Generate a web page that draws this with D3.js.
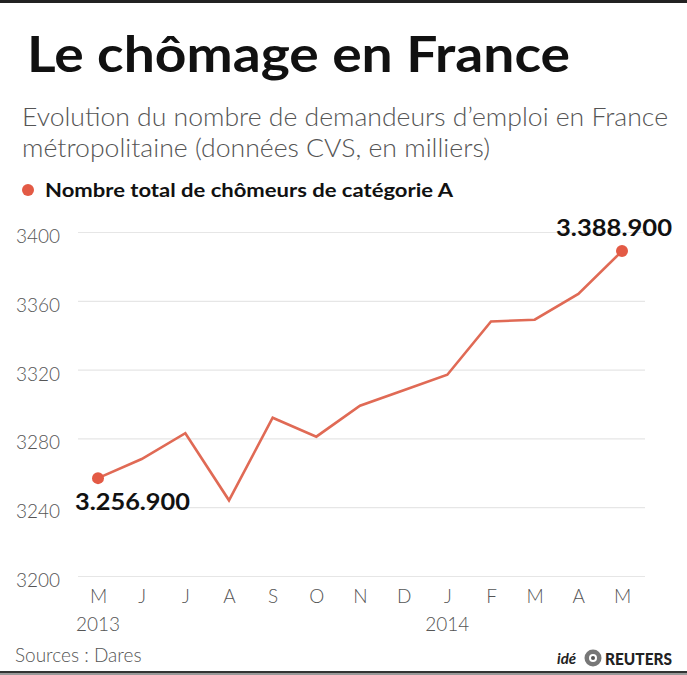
<!DOCTYPE html>
<html><head><meta charset="utf-8">
<script src="https://cdn.jsdelivr.net/npm/d3@7"></script>
<style>
html,body{margin:0;padding:0;background:#fff;}
svg{display:block;}
</style></head>
<body>
<svg id="c" width="687" height="675"></svg>
<script>
const months = ["M","J","J","A","S","O","N","D","J","F","M","A","M"];
const monthIds = ["2013-05","2013-06","2013-07","2013-08","2013-09","2013-10","2013-11","2013-12","2014-01","2014-02","2014-03","2014-04","2014-05"];
const values = [3256.9, 3268, 3283, 3244, 3292, 3281, 3299, 3308, 3317, 3348, 3349, 3364, 3388.9];
const yTicks = [3200, 3240, 3280, 3320, 3360, 3400];
const years = [{id:"2013-05", label:"2013"}, {id:"2014-01", label:"2014"}];
const labels = [{i:0, text:"3.256.900"}, {i:12, text:"3.388.900"}];

const svg = d3.select("#c");
const red = "#e35a45";
const lineRed = "#e06a55";

const x = d3.scalePoint().domain(monthIds).range([98, 622]);
const y = d3.scaleLinear().domain([3200, 3400]).range([576, 232]);

// borders
svg.append("rect").attr("x",0).attr("y",0).attr("width",687).attr("height",3).attr("fill","#222");
svg.append("rect").attr("x",0).attr("y",671).attr("width",687).attr("height",2).attr("fill","#333");
svg.append("rect").attr("x",0).attr("y",673).attr("width",687).attr("height",2).attr("fill","#999");

// title
svg.append("text").attr("x",27).attr("y",72)
  .attr("font-family","Lato, 'Open Sans', sans-serif").attr("font-weight",700)
  .attr("font-size",50).attr("fill","#111")
  .attr("textLength",543).attr("lengthAdjust","spacingAndGlyphs")
  .text("Le chômage en France");

// subtitle
const sub = svg.append("g").attr("font-family","Lato, 'Open Sans', sans-serif").attr("font-weight",300)
  .attr("font-size",25).attr("fill","#555");
sub.append("text").attr("x",22).attr("y",126).attr("textLength",646).attr("lengthAdjust","spacingAndGlyphs")
  .text("Evolution du nombre de demandeurs d’emploi en France");
sub.append("text").attr("x",22).attr("y",157).attr("textLength",468).attr("lengthAdjust","spacingAndGlyphs")
  .text("métropolitaine (données CVS, en milliers)");

// legend
svg.append("circle").attr("cx",28).attr("cy",190).attr("r",6).attr("fill",red);
svg.append("text").attr("x",45).attr("y",197)
  .attr("font-family","Lato, 'Open Sans', sans-serif").attr("font-weight",700)
  .attr("font-size",19).attr("fill","#111")
  .attr("textLength",408).attr("lengthAdjust","spacingAndGlyphs")
  .text("Nombre total de chômeurs de catégorie A");

// y axis with gridlines
const yAxis = d3.axisLeft(y).tickValues(yTicks).tickSize(-(645-78)).tickPadding(18).tickFormat(d3.format("d"));
const ga = svg.append("g").attr("transform","translate(78,0)").call(yAxis);
ga.select(".domain").remove();
ga.selectAll(".tick line").attr("stroke","#e6e6e6").attr("stroke-width",1.2);
ga.selectAll(".tick text").attr("font-family","Lato, 'Open Sans', sans-serif").attr("font-weight",300)
  .attr("font-size",19).attr("fill","#555").attr("dy","0.55em");

// x axis
const xAxis = d3.axisBottom(x).tickSize(0).tickPadding(14).tickFormat((d,i)=>months[i]);
const gx = svg.append("g").attr("transform","translate(0,576)").call(xAxis);
gx.select(".domain").remove();
gx.selectAll(".tick text").attr("font-family","Lato, 'Open Sans', sans-serif").attr("font-weight",300)
  .attr("font-size",19).attr("fill","#555");

svg.append("g").selectAll("text").data(years).join("text")
  .attr("x",d=>x(d.id)).attr("y",631).attr("text-anchor","middle")
  .attr("font-family","Lato, 'Open Sans', sans-serif").attr("font-weight",300)
  .attr("font-size",19).attr("fill","#555").text(d=>d.label);

// line
const line = d3.line().x((d,i)=>x(monthIds[i])).y(d=>y(d));
svg.append("path").datum(values).attr("d",line).attr("fill","none")
  .attr("stroke",lineRed).attr("stroke-width",2.6).attr("stroke-linejoin","miter");

// end dots & labels
svg.append("g").selectAll("circle").data(labels).join("circle")
  .attr("cx",d=>x(monthIds[d.i])).attr("cy",d=>y(values[d.i])).attr("r",6).attr("fill",red);

svg.append("text").attr("x",x(monthIds[0])-23).attr("y",y(values[0])+32)
  .attr("font-family","Lato, 'Open Sans', sans-serif").attr("font-weight",700)
  .attr("font-size",23).attr("fill","#111").attr("textLength",115).attr("lengthAdjust","spacingAndGlyphs")
  .text(labels[0].text);
svg.append("text").attr("x",x(monthIds[12])+50).attr("y",y(values[12])-15).attr("text-anchor","end")
  .attr("font-family","Lato, 'Open Sans', sans-serif").attr("font-weight",700)
  .attr("font-size",23).attr("fill","#111").attr("textLength",116).attr("lengthAdjust","spacingAndGlyphs")
  .text(labels[1].text);

// source
svg.append("text").attr("x",15).attr("y",662)
  .attr("font-family","Lato, 'Open Sans', sans-serif").attr("font-weight",300)
  .attr("font-size",19).attr("fill","#555").text("Sources : Dares");

// logo
svg.append("text").attr("x",557).attr("y",664)
  .attr("font-family","Lato, 'Open Sans', sans-serif").attr("font-weight",700).attr("font-style","italic")
  .attr("font-size",15).attr("fill","#222").text("idé");
const lg = svg.append("g").attr("transform","translate(593,658)");
lg.append("circle").attr("r",8.5).attr("fill","#777");
lg.append("circle").attr("r",4).attr("fill","#fff");
lg.append("circle").attr("r",2).attr("fill","#555");
svg.append("text").attr("x",605).attr("y",665)
  .attr("font-family","Lato, 'Open Sans', sans-serif").attr("font-weight",900)
  .attr("font-size",16).attr("fill","#222").attr("textLength",67).attr("lengthAdjust","spacingAndGlyphs")
  .text("REUTERS");
</script>
</body></html>
